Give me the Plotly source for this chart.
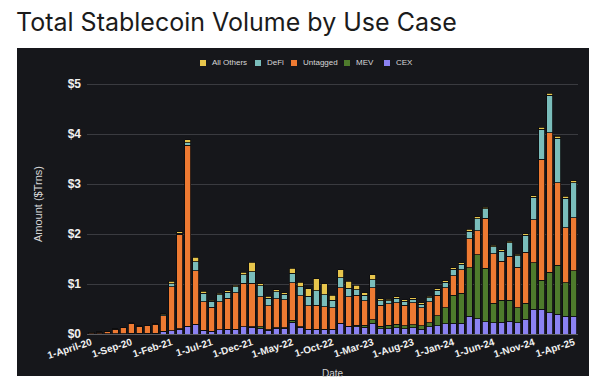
import plotly.graph_objects as go

# ---------------- data ----------------
dates = ["1-April-20","1-May-20","1-Jun-20","1-Jul-20","1-Aug-20","1-Sep-20","1-Oct-20","1-Nov-20","1-Dec-20",
         "1-Jan-21","1-Feb-21","1-Mar-21","1-Apr-21","1-May-21","1-Jun-21","1-Jul-21","1-Aug-21","1-Sep-21",
         "1-Oct-21","1-Nov-21","1-Dec-21","1-Jan-22","1-Feb-22","1-Mar-22","1-Apr-22","1-May-22","1-Jun-22",
         "1-Jul-22","1-Aug-22","1-Sep-22","1-Oct-22","1-Nov-22","1-Dec-22","1-Jan-23","1-Feb-23","1-Mar-23",
         "1-Apr-23","1-May-23","1-Jun-23","1-Jul-23","1-Aug-23","1-Sep-23","1-Oct-23","1-Nov-23","1-Dec-23",
         "1-Jan-24","1-Feb-24","1-Mar-24","1-Apr-24","1-May-24","1-Jun-24","1-Jul-24","1-Aug-24","1-Sep-24",
         "1-Oct-24","1-Nov-24","1-Dec-24","1-Jan-25","1-Feb-25","1-Mar-25","1-Apr-25"]

tick_labels = ["1-April-20","1-Sep-20","1-Feb-21","1-Jul-21","1-Dec-21","1-May-22","1-Oct-22",
               "1-Mar-23","1-Aug-23","1-Jan-24","1-Jun-24","1-Nov-24","1-Apr-25"]

y_tick_vals = [0, 1, 2, 3, 4, 5]
y_tick_text = ["$0", "$1", "$2", "$3", "$4", "$5"]

cex = [0.005,0.005,0.006,0.008,0.010,0.015,0.012,0.015,0.020,0.060,0.070,0.100,0.150,0.190,0.080,0.060,
       0.090,0.100,0.100,0.150,0.140,0.120,0.080,0.120,0.120,0.240,0.140,0.090,0.090,0.090,0.090,0.210,
       0.150,0.150,0.140,0.220,0.110,0.110,0.130,0.110,0.130,0.100,0.150,0.170,0.210,0.220,0.220,0.360,
       0.310,0.250,0.230,0.240,0.260,0.230,0.300,0.500,0.500,0.430,0.400,0.360,0.360]
mev = [0,0,0,0,0,0,0,0,0,0,0,0.005,0.005,0.005,0,0,
       0,0,0,0,0.005,0.030,0.010,0.010,0.010,0.040,0.010,0.010,0.010,0.010,0.010,0.010,
       0.010,0.030,0.040,0.070,0.050,0.070,0.070,0.060,0.060,0.070,0.080,0.200,0.320,0.560,0.600,0.970,
       1.280,1.070,0.390,0.440,0.420,0.300,0.320,0.930,0.580,0.810,0.980,0.670,0.910]
untagged = [0.025,0.035,0.045,0.090,0.120,0.190,0.140,0.155,0.180,0.310,0.880,1.890,3.620,1.075,0.570,0.480,
            0.560,0.620,0.730,0.870,0.875,0.600,0.480,0.580,0.560,0.750,0.620,0.470,0.480,0.450,0.430,0.710,
            0.590,0.600,0.490,0.640,0.420,0.430,0.430,0.410,0.440,0.360,0.420,0.410,0.400,0.390,0.470,0.580,
            0.480,1.000,0.990,0.780,0.880,0.810,1.020,0.860,2.420,2.790,1.650,1.100,1.060]
defi = [0,0.002,0.002,0.003,0.005,0.010,0.005,0.005,0.005,0.020,0.060,0.020,0.050,0.180,0.170,0.120,
        0.140,0.120,0.120,0.170,0.230,0.220,0.150,0.140,0.110,0.190,0.180,0.190,0.290,0.240,0.150,0.200,
        0.170,0.110,0.110,0.160,0.090,0.060,0.090,0.080,0.070,0.070,0.080,0.100,0.110,0.130,0.110,0.150,
        0.240,0.190,0.140,0.200,0.270,0.230,0.340,0.450,0.600,0.750,0.890,0.590,0.700]
all_others = [0.003,0.003,0.003,0.004,0.005,0.010,0.005,0.005,0.005,0.020,0.050,0.030,0.060,0.090,0.040,0.020,
              0.030,0.030,0.030,0.050,0.190,0.040,0.040,0.040,0.030,0.100,0.090,0.150,0.240,0.220,0.100,0.160,
              0.140,0.090,0.050,0.100,0.040,0.030,0.030,0.030,0.030,0.030,0.030,0.030,0.030,0.030,0.030,0.040,
              0.040,0.030,0.030,0.030,0.030,0.030,0.030,0.030,0.040,0.040,0.040,0.040,0.040]

series_names = ["CEX", "MEV", "Untagged", "DeFi", "All Others"]
series_colors = ["#8b82f2", "#4e7b2c", "#ee7a32", "#7abdbb", "#e7c54c"]
series_values = [cex, mev, untagged, defi, all_others]

# ---------------- geometry helpers (pixels -> paper) ----------------
W, H = 600, 380
L, R, T, B = 87, 22, 74, 46
PW, PH = W - L - R, H - T - B
def px(x): return (x - L) / PW
def py(y): return (H - B - y) / PH

PANEL = "#16171b"
FONT = "Liberation Sans, Arial, sans-serif"

fig = go.Figure()
for name, vals, col in zip(series_names, series_values, series_colors):
    fig.add_bar(x=dates, y=vals, name=name, showlegend=False,
                marker=dict(color=col, line=dict(color="#0c0c0e", width=0.8)))

shapes = [dict(type="rect", xref="paper", yref="paper", x0=px(17), x1=px(589), y0=py(376), y1=py(48),
               fillcolor=PANEL, line=dict(width=0), layer="below")]
annotations = [
    dict(text="Total Stablecoin Volume by Use Case", xref="paper", yref="paper", x=px(14), y=py(22),
         xanchor="left", yanchor="middle", showarrow=False,
         font=dict(family="Inter, Liberation Sans, sans-serif", size=25, color="#1b1b1b")),
    dict(text="Date", xref="paper", yref="paper", x=0.5, y=py(366), xanchor="center", yanchor="top",
         showarrow=False, font=dict(family=FONT, size=10, color="#cfcfcf")),
]

# compact legend
legend_order = ["All Others", "DeFi", "Untagged", "MEV", "CEX"]
legend_x = [203, 258, 294, 347, 387]
for nm, lx in zip(legend_order, legend_x):
    col = series_colors[series_names.index(nm)]
    shapes.append(dict(type="rect", xref="paper", yref="paper", x0=px(lx - 3), x1=px(lx + 3),
                       y0=py(66), y1=py(60), fillcolor=col, line=dict(width=0)))
    annotations.append(dict(text=nm, xref="paper", yref="paper", x=px(lx + 7), y=py(63),
                            xanchor="left", yanchor="middle", showarrow=False,
                            font=dict(family=FONT, size=8, color="#d8d8d8")))

fig.update_layout(
    width=W, height=H, margin=dict(l=L, r=R, t=T, b=B, pad=0),
    paper_bgcolor="white", plot_bgcolor=PANEL,
    barmode="stack", bargap=0.25,
    shapes=shapes, annotations=annotations, showlegend=False,
    xaxis=dict(type="category", tickmode="array", tickvals=tick_labels, ticktext=tick_labels,
               tickangle=-18, showgrid=False, zeroline=False, showline=False, ticks="",
               tickfont=dict(family=FONT, size=10, color="#f0f0f0", weight="bold")),
    yaxis=dict(range=[0, 5.2], tickmode="array", tickvals=y_tick_vals, ticktext=y_tick_text,
               showgrid=True, gridcolor="#3a3b40", gridwidth=1,
               zeroline=True, zerolinecolor="#5a5b60", zerolinewidth=1,
               ticks="", ticklabelstandoff=5,
               tickfont=dict(family=FONT, size=12, color="#f0f0f0", weight="bold"),
               title=dict(text="Amount ($Trns)", standoff=22,
                          font=dict(family=FONT, size=11, color="#d8d8d8"))),
)

fig.write_html("out.html", config={"displayModeBar": False},
               post_script="document.body.style.margin='0';document.body.style.padding='0';")
